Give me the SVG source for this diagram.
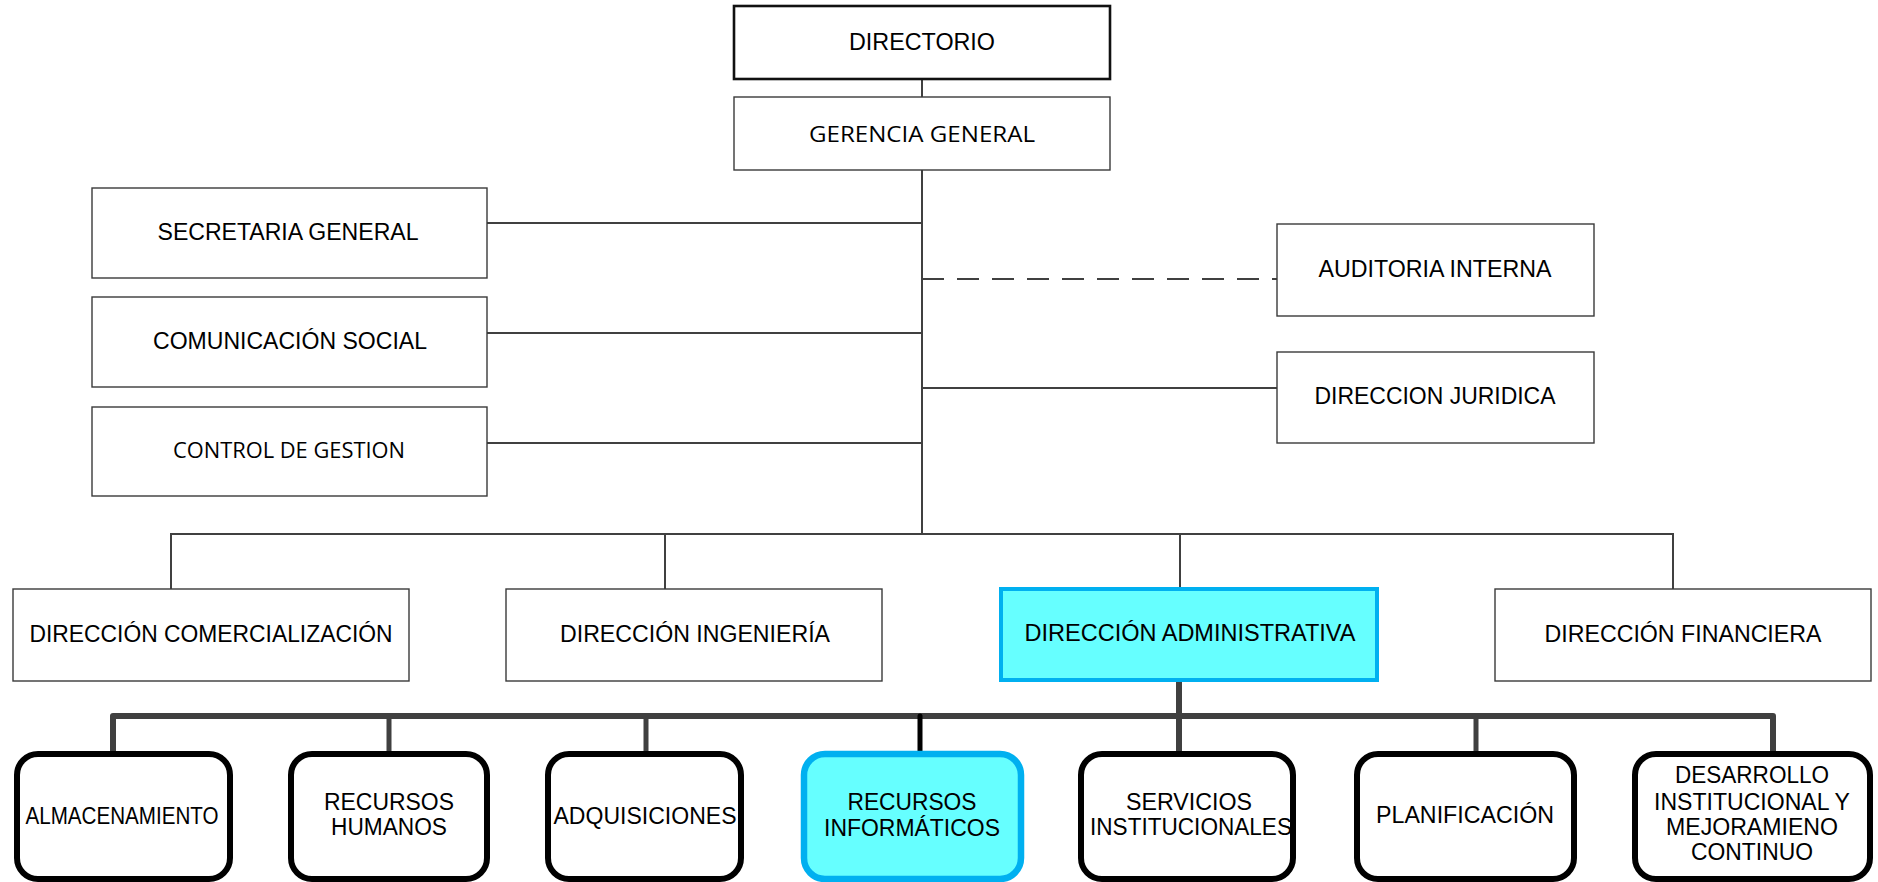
<svg xmlns="http://www.w3.org/2000/svg" width="1878" height="882" viewBox="0 0 1878 882">
  <style>
    .box { fill: #ffffff; stroke: #3a3a3a; stroke-width: 1.4; }
    .top { fill: #ffffff; stroke: #111111; stroke-width: 2.6; }
    .hl { fill: #66ffff; stroke: #00b0f0; stroke-width: 4; }
    .unit { fill: #ffffff; stroke: #000000; stroke-width: 6; }
    .unit-hl { fill: #66ffff; stroke: #00b0f0; stroke-width: 6.5; }
    .t { font-family: "Liberation Sans", Arial, sans-serif; font-size: 23px; fill: #000000; text-anchor: middle; }
    .c { font-family: "Open Sans", "Noto Sans", sans-serif; font-size: 22px; fill: #000000; text-anchor: middle; }
    .ln { stroke: #404040; stroke-width: 2; fill: none; }
    .dash { stroke: #404040; stroke-width: 2; fill: none; stroke-dasharray: 22 13; }
    .thick { stroke: #404040; stroke-width: 6; fill: none; stroke-linecap: round; }
    .drop { stroke: #404040; stroke-width: 5; fill: none; stroke-linecap: round; }
    .drop-hl { stroke: #000000; stroke-width: 5; fill: none; stroke-linecap: round; }
  </style>

  <rect width="1878" height="882" fill="#ffffff"/>

  <!-- connectors -->
  <g id="connectors">
    <line class="ln" x1="922" y1="79" x2="922" y2="97"/>
    <line class="ln" x1="922" y1="170" x2="922" y2="534"/>
    <line class="ln" x1="487" y1="223" x2="922" y2="223"/>
    <line class="ln" x1="487" y1="333" x2="922" y2="333"/>
    <line class="ln" x1="487" y1="443" x2="922" y2="443"/>
    <line class="dash" x1="922" y1="279" x2="1277" y2="279"/>
    <line class="ln" x1="922" y1="388" x2="1277" y2="388"/>
    <polyline class="ln" points="171,589 171,534 1673,534 1673,589"/>
    <line class="ln" x1="665" y1="534" x2="665" y2="589"/>
    <line class="ln" x1="1180" y1="534" x2="1180" y2="589"/>
    <line class="thick" x1="1179" y1="682" x2="1179" y2="753"/>
    <polyline class="thick" points="113,753 113,716 1773,716 1773,753" stroke-linejoin="round"/>
    <line class="drop" x1="389" y1="716" x2="389" y2="753"/>
    <line class="drop" x1="646" y1="716" x2="646" y2="753"/>
    <line class="drop" x1="1476" y1="716" x2="1476" y2="753"/>
    <line class="drop-hl" x1="920" y1="716" x2="920" y2="752"/>
  </g>

  <g id="directorio">
    <rect class="top" x="734" y="6" width="376" height="73"/>
    <text class="t" x="922" y="50" textLength="146" lengthAdjust="spacingAndGlyphs">DIRECTORIO</text>
  </g>
  <g id="gerencia-general">
    <rect class="box" x="734" y="97" width="376" height="73"/>
    <text class="c" x="922" y="142" textLength="226" lengthAdjust="spacingAndGlyphs">GERENCIA GENERAL</text>
  </g>

  <g id="secretaria-general">
    <rect class="box" x="92" y="188" width="395" height="90"/>
    <text class="t" x="288" y="240" textLength="261" lengthAdjust="spacingAndGlyphs">SECRETARIA GENERAL</text>
  </g>
  <g id="comunicacion-social">
    <rect class="box" x="92" y="297" width="395" height="90"/>
    <text class="t" x="290" y="349" textLength="274" lengthAdjust="spacingAndGlyphs">COMUNICACIÓN SOCIAL</text>
  </g>
  <g id="control-gestion">
    <rect class="box" x="92" y="407" width="395" height="89"/>
    <text class="c" x="289" y="458" textLength="232" lengthAdjust="spacingAndGlyphs">CONTROL DE GESTION</text>
  </g>

  <g id="auditoria-interna">
    <rect class="box" x="1277" y="224" width="317" height="92"/>
    <text class="t" x="1435" y="277" textLength="233" lengthAdjust="spacingAndGlyphs">AUDITORIA INTERNA</text>
  </g>
  <g id="direccion-juridica">
    <rect class="box" x="1277" y="352" width="317" height="91"/>
    <text class="t" x="1435" y="404" textLength="241" lengthAdjust="spacingAndGlyphs">DIRECCION JURIDICA</text>
  </g>

  <g id="direccion-comercializacion">
    <rect class="box" x="13" y="589" width="396" height="92"/>
    <text class="t" x="211" y="642" textLength="363" lengthAdjust="spacingAndGlyphs">DIRECCIÓN COMERCIALIZACIÓN</text>
  </g>
  <g id="direccion-ingenieria">
    <rect class="box" x="506" y="589" width="376" height="92"/>
    <text class="t" x="695" y="642" textLength="270" lengthAdjust="spacingAndGlyphs">DIRECCIÓN INGENIERÍA</text>
  </g>
  <g id="direccion-administrativa">
    <rect class="hl" x="1001" y="589" width="376" height="91"/>
    <text class="t" x="1190" y="641" textLength="331" lengthAdjust="spacingAndGlyphs">DIRECCIÓN ADMINISTRATIVA</text>
  </g>
  <g id="direccion-financiera">
    <rect class="box" x="1495" y="589" width="376" height="92"/>
    <text class="t" x="1683" y="642" textLength="277" lengthAdjust="spacingAndGlyphs">DIRECCIÓN FINANCIERA</text>
  </g>

  <g id="almacenamiento">
    <rect class="unit" x="17" y="754" width="213" height="125" rx="21"/>
    <text class="t" x="122" y="824" textLength="193" lengthAdjust="spacingAndGlyphs">ALMACENAMIENTO</text>
  </g>
  <g id="recursos-humanos">
    <rect class="unit" x="291" y="754" width="196" height="125" rx="21"/>
    <text class="t" x="389" y="810" textLength="130" lengthAdjust="spacingAndGlyphs">RECURSOS</text>
    <text class="t" x="389" y="835" textLength="116" lengthAdjust="spacingAndGlyphs">HUMANOS</text>
  </g>
  <g id="adquisiciones">
    <rect class="unit" x="548" y="754" width="193" height="125" rx="21"/>
    <text class="t" x="645" y="824" textLength="183" lengthAdjust="spacingAndGlyphs">ADQUISICIONES</text>
  </g>
  <g id="recursos-informaticos">
    <rect class="unit-hl" x="804" y="754" width="217" height="125" rx="21"/>
    <text class="t" x="912" y="810" textLength="129" lengthAdjust="spacingAndGlyphs">RECURSOS</text>
    <text class="t" x="912" y="836" textLength="176" lengthAdjust="spacingAndGlyphs">INFORMÁTICOS</text>
  </g>
  <g id="servicios-institucionales">
    <rect class="unit" x="1081" y="754" width="212" height="125" rx="21"/>
    <text class="t" x="1189" y="810" textLength="126" lengthAdjust="spacingAndGlyphs">SERVICIOS</text>
    <text class="t" x="1191" y="835" textLength="202" lengthAdjust="spacingAndGlyphs">INSTITUCIONALES</text>
  </g>
  <g id="planificacion">
    <rect class="unit" x="1357" y="754" width="217" height="125" rx="21"/>
    <text class="t" x="1465" y="823" textLength="178" lengthAdjust="spacingAndGlyphs">PLANIFICACIÓN</text>
  </g>
  <g id="desarrollo-institucional">
    <rect class="unit" x="1635" y="754" width="235" height="125" rx="21"/>
    <text class="t" x="1752" y="783" textLength="154" lengthAdjust="spacingAndGlyphs">DESARROLLO</text>
    <text class="t" x="1752" y="810" textLength="196" lengthAdjust="spacingAndGlyphs">INSTITUCIONAL Y</text>
    <text class="t" x="1752" y="835" textLength="172" lengthAdjust="spacingAndGlyphs">MEJORAMIENO</text>
    <text class="t" x="1752" y="860" textLength="122" lengthAdjust="spacingAndGlyphs">CONTINUO</text>
  </g>
</svg>
